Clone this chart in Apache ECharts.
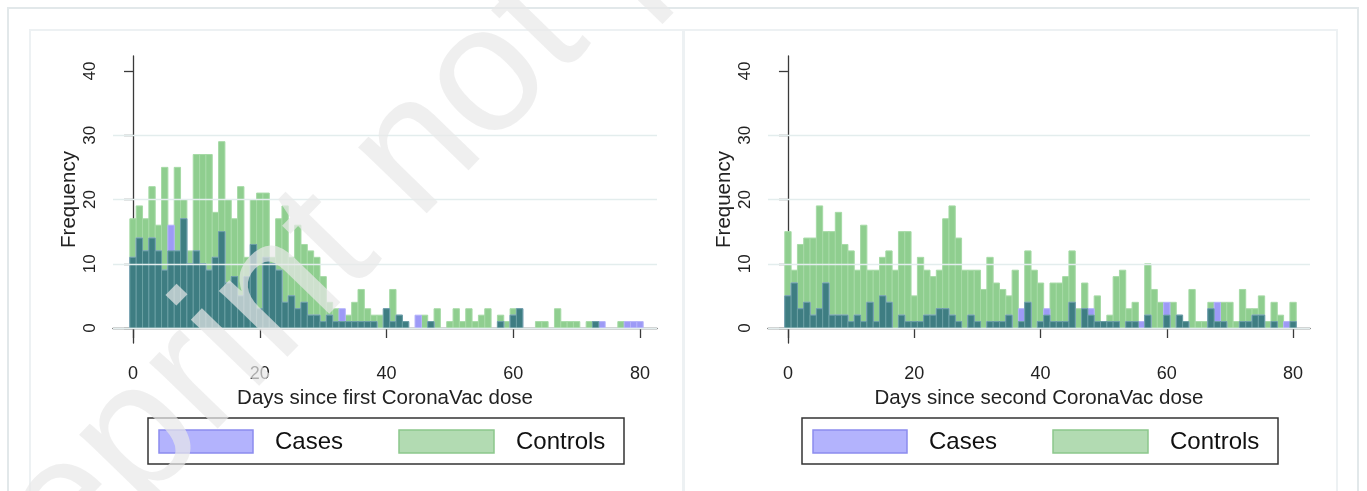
<!DOCTYPE html>
<html>
<head>
    <meta charset="utf-8">
    <title>CoronaVac histograms</title>
    <script src="https://cdn.jsdelivr.net/npm/echarts@6/dist/echarts.min.js"></script>
    <style>
        html, body { margin: 0; padding: 0; background: #fff; }
    </style>
</head>
<body>
<div id="main" style="width: 1367px;height:491px;"></div>
<script type="text/javascript">
    // days since dose, 0..80
    var days = [];
    for (var i = 0; i <= 80; i++) days.push(i);

    var xTicks = [0, 20, 40, 60, 80];
    var yTicks = [0, 10, 20, 30, 40];
    var gridValues = [0, 10, 20, 30];

    // first dose
    var casesFirst = [
        11, 14, 12, 14, 12, 9, 16, 12, 17, 10,
        12, 10, 9, 11, 15, 7, 8, 5, 8, 13,
        3, 11, 10, 9, 4, 5, 3, 4, 2, 2,
        1, 2, 1, 3, 1, 1, 1, 1, 1, 0,
        3, 1, 2, 1, 0, 2, 0, 1, 0, 0,
        0, 0, 0, 0, 0, 0, 0, 0, 1, 0,
        2, 3, 0, 0, 0, 0, 0, 0, 0, 0,
        0, 0, 0, 1, 1, 0, 0, 0, 1, 1,
        1
    ];
    var controlsFirst = [
        17, 19, 17, 22, 16, 25, 12, 25, 20, 12,
        27, 27, 27, 18, 29, 20, 17, 22, 11, 20,
        21, 21, 11, 17, 19, 11, 16, 13, 12, 11,
        8, 4, 3, 1, 2, 4, 6, 3, 2, 2,
        3, 6, 2, 1, 0, 0, 2, 1, 3, 0,
        1, 3, 1, 3, 1, 2, 3, 0, 2, 1,
        3, 3, 0, 0, 1, 1, 0, 3, 1, 1,
        1, 0, 1, 1, 0, 0, 0, 1, 0, 0,
        0
    ];

    // second dose
    var casesSecond = [
        5, 7, 3, 4, 2, 3, 7, 2, 2, 2,
        1, 2, 1, 4, 1, 5, 4, 0, 2, 1,
        1, 1, 2, 2, 3, 3, 2, 1, 0, 2,
        1, 0, 1, 1, 1, 2, 0, 3, 4, 0,
        1, 3, 1, 1, 1, 4, 0, 3, 3, 1,
        1, 1, 1, 0, 1, 1, 1, 2, 0, 0,
        4, 0, 2, 1, 0, 0, 0, 3, 4, 1,
        0, 0, 1, 1, 2, 2, 0, 1, 0, 1,
        1
    ];
    var controlsSecond = [
        15, 9, 13, 14, 14, 19, 15, 15, 18, 13,
        12, 9, 16, 9, 9, 11, 12, 9, 15, 15,
        5, 11, 9, 8, 9, 17, 19, 14, 9, 9,
        9, 6, 11, 7, 6, 5, 9, 1, 12, 9,
        7, 2, 7, 7, 8, 12, 3, 7, 2, 5,
        1, 2, 8, 9, 3, 4, 0, 10, 6, 4,
        2, 4, 2, 1, 6, 1, 1, 4, 1, 4,
        4, 1, 6, 3, 3, 5, 1, 4, 2, 0,
        4
    ];

    var font = "'Liberation Sans', Arial, sans-serif";

    function pairs(vals) {
        return days.map(function (d, i) { return [d, vals[i]]; });
    }
    function overlap(a, b) {
        return days.map(function (d, i) { return [d, Math.min(a[i], b[i])]; });
    }

    function barRenderer(fill, stroke) {
        return function (params, api) {
            var d = api.value(0), v = api.value(1);
            if (!v) return;
            var p0 = api.coord([d - 0.5, v]);
            var p1 = api.coord([d + 0.5, 0]);
            return {
                type: 'rect',
                shape: {x: p0[0], y: p0[1], width: p1[0] - p0[0], height: p1[1] - p0[1]},
                style: {fill: fill, stroke: stroke, lineWidth: 1}
            };
        };
    }

    function xAxisFor(idx, name) {
        return {
            type: 'value', gridIndex: idx, min: -3.16, max: 82.68,
            name: name, nameLocation: 'middle', nameGap: 36,
            nameTextStyle: {fontSize: 20.5, color: '#222', fontFamily: font},
            axisLine: {lineStyle: {color: '#3a3a3a', width: 1.3}},
            axisTick: {length: 10, customValues: xTicks, lineStyle: {color: '#3a3a3a', width: 1.3}},
            axisLabel: {customValues: xTicks, margin: 22, fontSize: 18, color: '#222', fontFamily: font},
            splitLine: {show: false}
        };
    }
    function yAxisFor(idx) {
        return {
            type: 'value', gridIndex: idx, min: -2.33, max: 42.33,
            name: 'Frequency', nameLocation: 'middle', nameGap: 33, nameRotate: 90,
            nameTextStyle: {fontSize: 20.5, color: '#222', fontFamily: font},
            axisLine: {show: true, lineStyle: {color: '#3a3a3a', width: 1.3}},
            axisTick: {show: true, length: 9, customValues: yTicks, lineStyle: {color: '#3a3a3a', width: 1.3}},
            axisLabel: {customValues: yTicks, rotate: 90, margin: 14, fontSize: 17, color: '#222', fontFamily: font},
            splitLine: {show: false}
        };
    }

    function panelSeries(idx, cases, controls) {
        return [
            {
                type: 'line', xAxisIndex: idx, yAxisIndex: idx, data: [], z: 0, silent: true,
                markLine: {
                    silent: true, symbol: 'none', label: {show: false},
                    lineStyle: {color: '#e3eded', width: 1.3, type: 'solid'},
                    data: gridValues.map(function (v) { return {yAxis: v}; })
                }
            },
            {
                name: 'Controls', type: 'custom', xAxisIndex: idx, yAxisIndex: idx, z: 2,
                renderItem: barRenderer('#8fce8f', '#a6daa6'), data: pairs(controls)
            },
            {
                name: 'Cases', type: 'custom', xAxisIndex: idx, yAxisIndex: idx, z: 3,
                renderItem: barRenderer('#9d9af6', '#b4b2fa'), data: pairs(cases)
            },
            {
                name: 'Both', type: 'custom', xAxisIndex: idx, yAxisIndex: idx, z: 4,
                renderItem: barRenderer('#3e7d82', '#6a9fa3'), data: overlap(cases, controls)
            }
        ];
    }

    function legendBox(x0) {
        return [
            {type: 'rect', shape: {x: x0, y: 418, width: 476, height: 46},
             style: {fill: '#fff', stroke: '#333', lineWidth: 1.5}},
            {type: 'rect', shape: {x: x0 + 11, y: 430, width: 94, height: 23},
             style: {fill: '#b3b3fd', stroke: '#8c8cee', lineWidth: 1.5}},
            {type: 'text', x: x0 + 127, y: 442,
             style: {text: 'Cases', fill: '#111', font: '24px ' + font, verticalAlign: 'middle'}},
            {type: 'rect', shape: {x: x0 + 251, y: 430, width: 95, height: 23},
             style: {fill: '#b2dbb2', stroke: '#8cc88c', lineWidth: 1.5}},
            {type: 'text', x: x0 + 368, y: 442,
             style: {text: 'Controls', fill: '#111', font: '24px ' + font, verticalAlign: 'middle'}}
        ];
    }

    var myChart = echarts.init(document.getElementById('main'));

    var option = {
        animation: false,
        backgroundColor: '#fff',
        grid: [
            {left: 113, top: 56, width: 544, height: 287},
            {left: 768, top: 56, width: 542, height: 287}
        ],
        xAxis: [
            xAxisFor(0, 'Days since first CoronaVac dose'),
            xAxisFor(1, 'Days since second CoronaVac dose')
        ],
        yAxis: [yAxisFor(0), yAxisFor(1)],
        series: panelSeries(0, casesFirst, controlsFirst).concat(panelSeries(1, casesSecond, controlsSecond)),
        graphic: [
            {type: 'rect', z: -10, shape: {x: 8, y: 8, width: 1350, height: 520},
             style: {fill: 'none', stroke: '#e2e8ea', lineWidth: 2}},
            {type: 'rect', z: -10, shape: {x: 30, y: 30, width: 653, height: 500},
             style: {fill: 'none', stroke: '#edf1f3', lineWidth: 2}},
            {type: 'rect', z: -10, shape: {x: 684, y: 30, width: 653, height: 500},
             style: {fill: 'none', stroke: '#edf1f3', lineWidth: 2}}
        ].concat(legendBox(148), legendBox(802), [
            // watermark
            {type: 'text', z: 100, x: -13, y: 724, rotation: 0.8, silent: true,
             style: {text: 'preprint not peer reviewed', fill: 'rgba(232,232,232,0.7)',
                     font: '180px ' + font, verticalAlign: 'bottom'}}
        ])
    };

    myChart.setOption(option);
</script>
</body>
</html>
